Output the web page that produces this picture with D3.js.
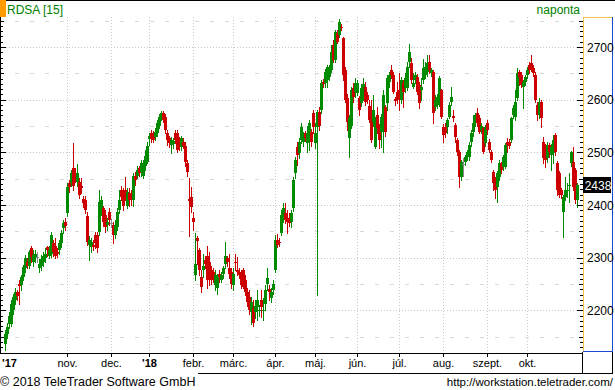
<!DOCTYPE html>
<html lang="en">
<head>
<meta charset="utf-8">
<title>RDSA [15]</title>
<script src="https://cdn.jsdelivr.net/npm/d3@7"></script>
<style>
body { margin: 0; background: #fff; }
svg { display: block; font-family: "Liberation Sans", Arial, sans-serif; }
.crisp line, .crisp rect { shape-rendering: crispEdges; }
</style>
</head>
<body>
<div id="chart"></div>
<script>

// daily candles [open, high, low, close], mid Sept 2017 .. late Oct 2018
var bars = [
  [2137,2162,2124,2156],[2156,2177,2147,2168],[2175,2196,2166,2190],[2175,2219,2170,2213],
  [2200,2232,2194,2225],[2219,2242,2213,2234],[2234,2238,2219,2227],[2251,2257,2213,2246],
  [2248,2268,2238,2263],[2263,2287,2257,2282],[2280,2305,2272,2299],[2291,2299,2280,2285],
  [2285,2314,2280,2310],[2318,2322,2291,2301],[2291,2314,2284,2306],[2299,2314,2291,2308],
  [2301,2310,2291,2301],[2280,2297,2272,2289],[2285,2305,2276,2297],[2291,2310,2284,2303],
  [2299,2318,2291,2308],[2320,2323,2304,2314],[2303,2322,2299,2314],[2308,2348,2301,2343],
  [2327,2333,2304,2310],[2323,2337,2299,2304],[2310,2318,2301,2308],[2314,2333,2308,2327],
  [2327,2352,2320,2346],[2356,2371,2346,2365],[2367,2375,2352,2360],
  // nov
  [2384,2441,2379,2434],[2441,2447,2424,2434],[2441,2466,2436,2460],[2470,2517,2428,2437],
  [2460,2470,2443,2451],[2443,2477,2436,2460],[2443,2451,2413,2419],[2437,2451,2422,2432],
  [2411,2417,2396,2403],[2409,2417,2384,2390],[2379,2386,2324,2329],[2324,2341,2295,2333],
  [2320,2337,2310,2329],[2325,2333,2314,2320],[2343,2348,2318,2327],[2343,2348,2310,2318],
  [2348,2428,2343,2405],[2390,2418,2381,2409],[2394,2399,2360,2367],[2381,2390,2348,2358],
  [2362,2375,2352,2367],
  // dec
  [2386,2394,2363,2371],[2365,2373,2358,2365],[2362,2367,2327,2343],[2343,2371,2337,2362],
  [2358,2394,2352,2386],[2390,2428,2384,2409],[2428,2436,2409,2415],[2422,2432,2390,2399],
  [2428,2453,2409,2419],[2399,2432,2394,2424],[2422,2432,2399,2409],[2419,2428,2401,2409],
  [2409,2460,2399,2455],[2456,2462,2439,2447],[2456,2474,2451,2466],[2470,2475,2455,2460],
  [2462,2485,2455,2479],[2456,2485,2451,2479],[2475,2504,2466,2494],[2481,2519,2479,2512],
  // jan
  [2525,2536,2514,2532],[2536,2542,2519,2525],[2532,2540,2519,2523],[2529,2546,2523,2538],
  [2536,2561,2531,2555],[2551,2572,2546,2567],[2567,2578,2561,2574],[2574,2578,2557,2561],
  [2567,2572,2536,2542],[2536,2542,2514,2523],[2527,2532,2510,2517],[2514,2529,2498,2523],
  [2515,2527,2508,2521],[2536,2542,2517,2523],[2536,2542,2500,2504],[2523,2529,2504,2513],
  [2510,2532,2504,2527],[2519,2527,2508,2513],[2513,2519,2475,2481],[2479,2485,2456,2462],
  [2411,2451,2342,2407],[2415,2434,2386,2396],
  // feb
  [2375,2386,2352,2367],[2267,2346,2257,2289],[2337,2342,2289,2331],[2314,2318,2267,2276],
  [2263,2276,2234,2244],[2276,2308,2263,2285],[2295,2304,2280,2289],[2303,2323,2242,2257],
  [2291,2310,2248,2257],[2276,2285,2251,2257],[2272,2280,2253,2261],[2248,2276,2238,2267],
  [2242,2270,2232,2263],[2270,2276,2253,2263],[2257,2272,2253,2267],[2270,2285,2261,2280],
  [2289,2329,2280,2303],[2299,2304,2285,2291],[2280,2308,2261,2270],[2272,2280,2242,2251],
  // mar
  [2248,2280,2238,2270],[2292,2308,2276,2290],[2276,2301,2267,2272],[2272,2280,2261,2267],
  [2270,2276,2242,2248],[2276,2280,2242,2244],[2257,2267,2229,2234],[2234,2242,2209,2215],
  [2225,2238,2194,2200],[2196,2225,2175,2215],[2204,2219,2171,2177],[2196,2219,2185,2209],
  [2206,2238,2181,2219],[2200,2210,2190,2201],[2219,2238,2187,2206],[2199,2223,2181,2201],
  [2213,2248,2200,2238],[2251,2280,2238,2261],[2240,2248,2219,2234],[2223,2242,2215,2234],
  [2238,2257,2232,2251],
  // apr
  [2276,2343,2272,2333],[2333,2345,2320,2324],[2329,2337,2322,2327],[2346,2390,2343,2381],
  [2375,2403,2367,2394],[2384,2403,2365,2371],[2375,2390,2346,2367],[2375,2384,2360,2365],
  [2367,2390,2358,2384],[2394,2453,2388,2447],[2460,2491,2451,2485],[2510,2519,2476,2495],
  [2498,2527,2489,2519],[2523,2555,2517,2548],[2519,2538,2513,2532],[2536,2540,2521,2527],
  [2517,2551,2500,2536],[2523,2561,2504,2555],[2538,2544,2513,2519],[2574,2580,2536,2549],
  // may
  [2517,2555,2508,2536],[2548,2580,2229,2576],[2576,2586,2542,2551],[2580,2637,2574,2631],
  [2633,2640,2625,2629],[2631,2658,2625,2652],[2637,2666,2624,2662],[2643,2666,2637,2660],
  [2656,2704,2652,2690],[2704,2713,2671,2675],[2675,2732,2671,2728],[2726,2732,2707,2709],
  [2722,2753,2719,2747],[2738,2743,2732,2736],[2717,2719,2637,2647],[2656,2662,2595,2599],
  [2603,2610,2542,2557],[2527,2570,2491,2565],[2551,2624,2546,2618],[2622,2631,2595,2605],
  [2614,2641,2605,2631],
  // jun
  [2612,2637,2608,2631],[2603,2607,2570,2580],[2593,2629,2588,2622],[2610,2641,2599,2629],
  [2624,2633,2590,2595],[2609,2614,2593,2599],[2588,2599,2557,2561],[2565,2599,2519,2523],
  [2557,2609,2551,2580],[2510,2567,2508,2561],[2571,2586,2536,2546],[2548,2553,2508,2523],
  [2538,2572,2510,2567],[2561,2618,2500,2609],[2586,2590,2532,2538],[2593,2647,2580,2641],
  [2633,2652,2624,2647],[2656,2666,2641,2647],[2647,2652,2612,2614],[2601,2605,2590,2597],
  [2614,2633,2593,2599],
  // jul
  [2618,2650,2580,2599],[2599,2643,2593,2637],[2631,2637,2586,2614],[2622,2650,2614,2641],
  [2622,2671,2618,2662],[2671,2705,2662,2690],[2669,2679,2631,2637],[2624,2650,2622,2631],
  [2637,2652,2631,2647],[2643,2648,2610,2614],[2628,2633,2584,2593],[2618,2641,2599,2624],
  [2637,2677,2631,2660],[2647,2671,2641,2662],[2652,2684,2645,2669],[2671,2684,2650,2656],
  [2650,2660,2645,2656],[2652,2656,2555,2574],[2586,2609,2580,2599],[2590,2610,2584,2605],
  [2593,2645,2588,2641],[2618,2620,2565,2567],
  // aug
  [2548,2553,2519,2533],[2548,2555,2530,2536],[2548,2565,2536,2561],[2567,2595,2565,2590],
  [2595,2624,2590,2605],[2569,2580,2560,2565],[2552,2556,2519,2529],[2523,2527,2495,2500],
  [2500,2504,2434,2453],[2453,2485,2447,2481],[2478,2489,2456,2478],[2481,2495,2476,2491],
  [2491,2504,2485,2500],[2491,2519,2486,2514],[2519,2542,2513,2536],[2538,2571,2532,2555],
  [2555,2574,2550,2570],[2574,2584,2550,2555],[2565,2570,2536,2538],[2542,2556,2536,2551],
  [2546,2548,2498,2500],[2517,2552,2512,2548],
  // sep
  [2555,2561,2535,2542],[2519,2525,2500,2504],[2500,2505,2481,2485],[2462,2466,2428,2441],
  [2447,2453,2413,2428],[2434,2465,2405,2460],[2453,2485,2447,2479],[2479,2481,2460,2466],
  [2472,2495,2466,2491],[2472,2517,2470,2514],[2519,2527,2500,2514],[2519,2525,2508,2513],
  [2523,2567,2519,2565],[2571,2590,2565,2584],[2567,2618,2562,2595],[2603,2660,2599,2650],
  [2652,2656,2628,2643],[2647,2652,2624,2628],[2624,2637,2584,2633],[2633,2647,2628,2643],
  // oct
  [2647,2662,2641,2656],[2666,2671,2650,2656],[2669,2684,2655,2660],[2660,2665,2645,2650],
  [2647,2652,2595,2599],[2590,2595,2561,2571],[2571,2603,2565,2595],[2595,2599,2548,2565],
  [2519,2529,2479,2489],[2510,2515,2472,2485],[2489,2519,2481,2514],[2514,2517,2491,2500],
  [2495,2515,2466,2510],[2498,2533,2479,2523],[2533,2536,2495,2500],[2479,2484,2419,2428],
  [2460,2465,2415,2419],[2428,2432,2413,2419],[2386,2419,2339,2415],[2415,2453,2409,2428],
  [2427,2441,2415,2429],[2436,2460,2405,2438],[2479,2502,2474,2500],[2481,2510,2429,2434],
  [2466,2470,2403,2409],[2409,2442,2396,2438]
];

// month labels and the index of each month's first trading day
var monthLabels = ["'17", "nov.", "dec.", "'18", "febr.", "márc.", "ápr.", "máj.", "jún.", "júl.", "aug.", "szept.", "okt."];
var monthStart  = [2, 31, 53, 72, 94, 114, 135, 155, 176, 197, 219, 241, 261];
var yearLabel   = [true, false, false, true, false, false, false, false, false, false, false, false, false];

var priceLabels = [2200, 2300, 2400, 2500, 2600, 2700];
var lastPrice = 2438;

var width = 615, height = 390;
var plotRight = 583, plotTop = 17, plotBottom = 352;

var svg = d3.select("#chart").append("svg")
    .attr("width", width)
    .attr("height", height);

var x = d3.scaleLinear()
    .domain([0, bars.length - 1])
    .range([5, 5 + 2 * (bars.length - 1)]);

var y = d3.scaleLinear()
    .domain([2121, 2757])
    .range([plotBottom, plotTop]);

function py(v) { return Math.round(y(v)) + 0.5; }

var grid = svg.append("g").attr("class", "crisp");

// horizontal grid: dotted at hundreds, dashed at fifties
grid.selectAll("line.h")
    .data(d3.range(2150, 2751, 50))
    .join("line")
    .attr("x1", 0).attr("x2", plotRight)
    .attr("y1", py).attr("y2", py)
    .attr("stroke", function(d) { return d % 100 == 0 ? "#c8c8c8" : "#d8d8d8"; })
    .attr("stroke-dasharray", function(d) { return d % 100 == 0 ? "1,2" : "4,11"; })
    .attr("stroke-dashoffset", function(d) { return d % 100 == 0 ? 0 : -15; });

// vertical grid at month starts
grid.selectAll("line.v")
    .data(monthStart.slice(1))
    .join("line")
    .attr("x1", function(d) { return x(d) + 0.5; })
    .attr("x2", function(d) { return x(d) + 0.5; })
    .attr("y1", plotTop).attr("y2", plotBottom)
    .attr("stroke", "#c8c8c8")
    .attr("stroke-dasharray", "1,2");

// candles
var candle = svg.append("g").attr("class", "crisp")
    .selectAll("g")
    .data(bars)
    .join("g");

function colour(d) {
    if (d[3] > d[0]) return "#008a00";
    if (d[3] < d[0]) return "#cc0000";
    return "#888888";
}

candle.append("line")
    .attr("x1", function(d, i) { return x(i) + 0.5; })
    .attr("x2", function(d, i) { return x(i) + 0.5; })
    .attr("y1", function(d) { return Math.round(y(d[1])); })
    .attr("y2", function(d) { return Math.round(y(d[2])) + 1; })
    .attr("stroke", colour);

candle.append("rect")
    .attr("x", function(d, i) { return x(i) - 1; })
    .attr("width", 3)
    .attr("y", function(d) { return Math.round(y(Math.max(d[0], d[3]))); })
    .attr("height", function(d) {
        return Math.max(1, Math.round(y(Math.min(d[0], d[3]))) - Math.round(y(Math.max(d[0], d[3]))));
    })
    .attr("fill", colour);

var frame = svg.append("g").attr("class", "crisp");

// top border and left axis
frame.append("line").attr("x1", 0).attr("x2", width).attr("y1", 0.5).attr("y2", 0.5).attr("stroke", "#000");
frame.append("line").attr("x1", 0.5).attr("x2", 0.5).attr("y1", plotTop).attr("y2", plotBottom + 1).attr("stroke", "#000");

var ticks = d3.range(2130, 2751, 10);
function tickLen(d) { return d % 100 == 0 ? 6 : (d % 50 == 0 ? 4 : 3); }

frame.selectAll("line.lt")
    .data(ticks)
    .join("line")
    .attr("x1", 0).attr("x2", tickLen)
    .attr("y1", py).attr("y2", py)
    .attr("stroke", "#000");

frame.selectAll("line.rt")
    .data(ticks)
    .join("line")
    .attr("x1", function(d) { return plotRight - tickLen(d); })
    .attr("x2", plotRight)
    .attr("y1", py).attr("y2", py)
    .attr("stroke", "#000");

// right axis panel
frame.append("line").attr("x1", plotRight + 0.5).attr("x2", plotRight + 0.5)
    .attr("y1", plotTop).attr("y2", plotBottom).attr("stroke", "#f2c24a");
frame.append("line").attr("x1", plotRight).attr("x2", 613)
    .attr("y1", plotTop + 0.5).attr("y2", plotTop + 0.5).attr("stroke", "#f2c24a");
frame.append("line").attr("x1", 612.5).attr("x2", 612.5)
    .attr("y1", plotTop).attr("y2", plotBottom).attr("stroke", "#1c47d0");
frame.append("line").attr("x1", plotRight).attr("x2", 613)
    .attr("y1", plotBottom - 0.5).attr("y2", plotBottom - 0.5).attr("stroke", "#1c47d0");

svg.append("g").selectAll("text")
    .data(priceLabels)
    .join("text")
    .attr("x", 587)
    .attr("y", function(d) { return y(d) + 4.5; })
    .attr("font-size", 12)
    .attr("fill", "#000")
    .text(function(d) { return d; });

// last price marker
frame.append("rect")
    .attr("x", plotRight)
    .attr("y", Math.round(y(lastPrice)) - 8)
    .attr("width", 28).attr("height", 16)
    .attr("fill", "#000");
svg.append("text")
    .attr("x", 598).attr("y", y(lastPrice) + 4.5)
    .attr("text-anchor", "middle")
    .attr("font-size", 12)
    .attr("fill", "#fff")
    .text(lastPrice);

// x axis
frame.append("line").attr("x1", 0).attr("x2", plotRight)
    .attr("y1", 353.5).attr("y2", 353.5).attr("stroke", "#000");
frame.selectAll("line.xt")
    .data(monthStart.slice(1))
    .join("line")
    .attr("x1", function(d) { return x(d) + 0.5; })
    .attr("x2", function(d) { return x(d) + 0.5; })
    .attr("y1", 354).attr("y2", 357)
    .attr("stroke", "#000");
frame.append("line").attr("x1", 582.5).attr("x2", 582.5).attr("y1", 352).attr("y2", 374).attr("stroke", "#000");
frame.append("line").attr("x1", 612.5).attr("x2", 612.5).attr("y1", 352).attr("y2", 374).attr("stroke", "#000");
frame.append("line").attr("x1", 198).attr("x2", 613).attr("y1", 373.5).attr("y2", 373.5).attr("stroke", "#000");

svg.append("g").selectAll("text")
    .data(monthLabels)
    .join("text")
    .attr("x", function(d, i) { return x(monthStart[i]) + 0.5; })
    .attr("y", 367)
    .attr("text-anchor", "middle")
    .attr("font-size", 11)
    .attr("font-weight", function(d, i) { return yearLabel[i] ? "bold" : "normal"; })
    .attr("fill", "#000")
    .text(function(d) { return d; });

// header
svg.append("rect").attr("x", 0).attr("y", 0).attr("width", 6).attr("height", 17).attr("fill", "#ff9a00");
svg.append("text").attr("x", 7).attr("y", 14)
    .attr("font-size", 12).attr("fill", "#008000")
    .text("RDSA [15]");
svg.append("text").attr("x", 580).attr("y", 14)
    .attr("text-anchor", "end")
    .attr("font-size", 12).attr("fill", "#008000")
    .text("naponta");

// footer
svg.append("text").attr("x", 0).attr("y", 386)
    .attr("font-size", 12.5).attr("fill", "#000")
    .text("© 2018 TeleTrader Software GmbH");
svg.append("text").attr("x", 613).attr("y", 386)
    .attr("text-anchor", "end")
    .attr("font-size", 11.5).attr("fill", "#000")
    .text("http://workstation.teletrader.com/");

</script>
</body>
</html>
